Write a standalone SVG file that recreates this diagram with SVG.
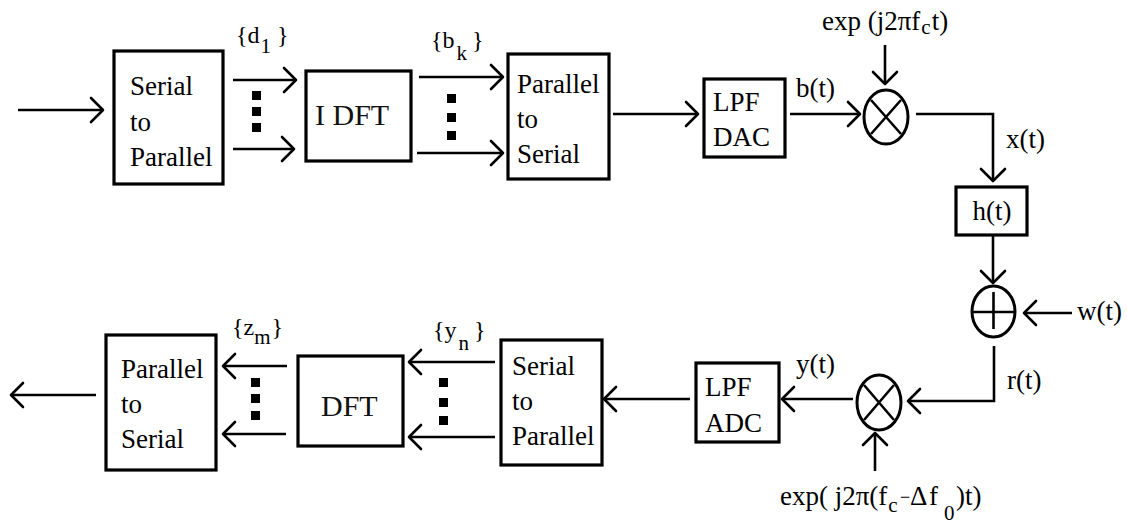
<svg xmlns="http://www.w3.org/2000/svg" width="1127" height="523" viewBox="0 0 1127 523">
<defs>
<style>
.box{fill:#fff;stroke:#000;stroke-width:3.2}
.circ{fill:#fff;stroke:#000;stroke-width:3}
.sym{fill:none;stroke:#000;stroke-width:2.6}
.t{font-family:"Liberation Serif","Times New Roman",serif;font-size:27px;fill:#000}
.big{font-size:30px;fill:#111}
.lbl{font-size:24px}
.sub{font-size:21px}
.arr{fill:none;stroke:#000;stroke-width:2.6;marker-end:url(#ah)}
.dot{fill:#000}
</style>
<marker id="ah" viewBox="-15 -15 18 30" refX="0" refY="0" markerWidth="18" markerHeight="30" markerUnits="userSpaceOnUse" orient="auto">
<path d="M -12 -12 L 0 0 L -12 12" fill="none" stroke="#000" stroke-width="2.6" stroke-linecap="round" stroke-linejoin="round"/>
</marker>
</defs>
<rect width="1127" height="523" fill="#fff"/>

<g id="connectors">
<path class="arr" d="M18 110 H103"/>
<path class="arr" d="M233 80 H296"/>
<path class="arr" d="M233 149 H294"/>
<path class="arr" d="M419 77 H503"/>
<path class="arr" d="M417 153 H503"/>
<path class="arr" d="M613 114 H698"/>
<path class="arr" d="M790 114 H860"/>
<path class="arr" d="M885 45 V84"/>
<path class="arr" d="M916 114 H993 V181"/>
<path class="arr" d="M993 236 V283"/>
<path class="arr" d="M1072 313 H1024"/>
<path class="arr" d="M994 346 V401 H908"/>
<path class="arr" d="M853 399 H782"/>
<path class="arr" d="M875 471 V433"/>
<path class="arr" d="M690 399 H604"/>
<path class="arr" d="M495 362 H409"/>
<path class="arr" d="M495 437 H409"/>
<path class="arr" d="M287 366 H223"/>
<path class="arr" d="M286 434 H223"/>
<path class="arr" d="M96 395 H11"/>
<rect class="dot" x="252" y="91" width="9" height="9"/>
<rect class="dot" x="252" y="107" width="9" height="9"/>
<rect class="dot" x="252" y="123" width="9" height="9"/>
<rect class="dot" x="447" y="94" width="9" height="9"/>
<rect class="dot" x="447" y="113" width="9" height="9"/>
<rect class="dot" x="447" y="131" width="9" height="9"/>
<rect class="dot" x="439" y="378" width="9" height="9"/>
<rect class="dot" x="439" y="398" width="9" height="9"/>
<rect class="dot" x="439" y="416" width="9" height="9"/>
<rect class="dot" x="251" y="378" width="9" height="9"/>
<rect class="dot" x="251" y="394" width="9" height="9"/>
<rect class="dot" x="251" y="411" width="9" height="9"/>
</g>

<g id="labels">
<text class="t lbl" x="236" y="43">{d<tspan class="sub" dx="1" dy="10">1</tspan><tspan dx="6" dy="-10">}</tspan></text>
<text class="t lbl" x="431" y="48">{b<tspan class="sub" dx="2" dy="12">k</tspan><tspan dx="5" dy="-12">}</tspan></text>
<text class="t lbl" x="433" y="338">{y<tspan class="sub" dx="2" dy="12">n</tspan><tspan dx="5" dy="-12">}</tspan></text>
<text class="t lbl" x="232" y="335">{z<tspan class="sub" dx="0" dy="9">m</tspan><tspan dx="1" dy="-9">}</tspan></text>
<text class="t" x="796" y="97">b(t)</text>
<text class="t" x="1006" y="148">x(t)</text>
<text class="t" x="1077" y="320">w(t)</text>
<text class="t" x="1007" y="389">r(t)</text>
<text class="t" x="796" y="373">y(t)</text>
<text class="t" x="822" y="30">exp (j2πf<tspan class="sub" dx="1" dy="4">c</tspan><tspan dx="1" dy="-4">t)</tspan></text>
<text class="t"><tspan x="780" y="505">exp( j2π(f</tspan><tspan class="sub" dx="1" dy="7">c</tspan><tspan x="900" y="503" font-size="18">−</tspan><tspan x="910" y="505">Δ</tspan><tspan x="929" y="505">f</tspan><tspan class="sub" x="944" y="520">0</tspan><tspan x="956" y="505">)t)</tspan></text>
</g>

<g id="sp-tx">
<rect class="box" x="114" y="51" width="109" height="133"/>
<text class="t"><tspan x="130" y="95">Serial</tspan><tspan x="130" y="131">to</tspan><tspan x="130" y="166">Parallel</tspan></text>
</g>
<g id="idft">
<rect class="box" x="306" y="71" width="105" height="90"/>
<text class="t big" x="315" y="125">I DFT</text>
</g>
<g id="ps-tx">
<rect class="box" x="508" y="54" width="101" height="125"/>
<text class="t"><tspan x="517" y="93">Parallel</tspan><tspan x="517" y="128">to</tspan><tspan x="517" y="163">Serial</tspan></text>
</g>
<g id="lpf-dac">
<rect class="box" x="704" y="79" width="81" height="78"/>
<text class="t"><tspan x="713" y="111">LPF</tspan><tspan x="713" y="146">DAC</tspan></text>
</g>
<g id="mixer-tx">
<ellipse class="circ" cx="886" cy="117" rx="22" ry="27"/>
<path class="sym" d="M871 100 L901 134 M901 100 L871 134"/>
</g>
<g id="channel">
<rect class="box" x="956" y="187" width="71" height="48"/>
<text class="t" x="992" y="220" text-anchor="middle">h(t)</text>
</g>
<g id="adder">
<ellipse class="circ" cx="993.5" cy="311.5" rx="21.5" ry="25.5"/>
<path class="sym" d="M972 312 H1015 M993.5 292 V329"/>
</g>
<g id="mixer-rx">
<ellipse class="circ" cx="879" cy="402.5" rx="22" ry="27.5"/>
<path class="sym" d="M864 385 L894 420 M894 385 L864 420"/>
</g>
<g id="lpf-adc">
<rect class="box" x="696" y="363" width="83" height="79"/>
<text class="t"><tspan x="705" y="396">LPF</tspan><tspan x="705" y="432">ADC</tspan></text>
</g>
<g id="sp-rx">
<rect class="box" x="501" y="340" width="101" height="125"/>
<text class="t"><tspan x="512" y="375">Serial</tspan><tspan x="512" y="410">to</tspan><tspan x="512" y="445">Parallel</tspan></text>
</g>
<g id="dft">
<rect class="box" x="298" y="356" width="105" height="90"/>
<text class="t big" x="321" y="416">DFT</text>
</g>
<g id="ps-rx">
<rect class="box" x="106" y="335" width="110" height="135"/>
<text class="t"><tspan x="121" y="378">Parallel</tspan><tspan x="121" y="413">to</tspan><tspan x="121" y="448">Serial</tspan></text>
</g>
</svg>
